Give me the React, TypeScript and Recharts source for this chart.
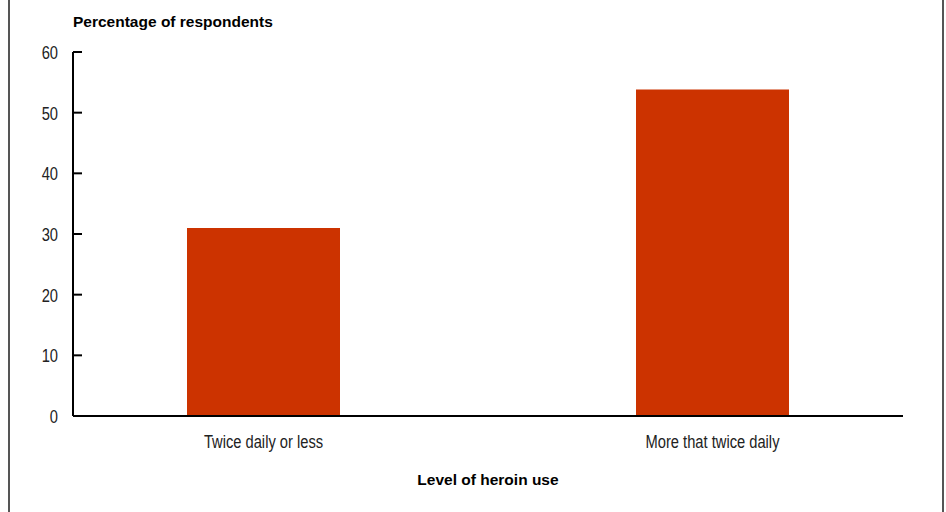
import { BarChart, Bar, XAxis, YAxis } from "recharts";

const categories = ["Twice daily or less", "More that twice daily"];
const percentages = [31, 53.8];
const yTicks = [0, 10, 20, 30, 40, 50, 60];

const chartData = categories.map((name, i) => ({ name, value: percentages[i] }));

const FONT = "'Liberation Sans', Arial, sans-serif";

// labels in the original use a narrow sans, so squeeze them a little
function YTick(props: any) {
  const { x, y, payload } = props;
  return (
    <g>
      <line x1={x} x2={x + 9} y1={y} y2={y} stroke="#000" strokeWidth={2} />
      <text
        transform={`translate(${x - 15},${y}) scale(0.84,1)`}
        dy="0.4em"
        textAnchor="end"
        fontSize={17.5}
        fontFamily={FONT}
        fill="#222"
      >
        {payload.value}
      </text>
    </g>
  );
}

function XTick(props: any) {
  const { x, y, payload } = props;
  return (
    <text
      transform={`translate(${x},${y + 32}) scale(0.84,1)`}
      textAnchor="middle"
      fontSize={17.5}
      fontFamily={FONT}
      fill="#222"
    >
      {payload.value}
    </text>
  );
}

export default function App() {
  return (
    <div
      style={{
        position: "absolute",
        left: 8,
        top: 0,
        width: 936,
        height: 512,
        borderLeft: "2px solid #555",
        borderRight: "2px solid #555",
        boxSizing: "border-box",
        background: "#fff",
      }}
    >
      <BarChart
        width={932}
        height={512}
        data={chartData}
        margin={{ top: 52, right: 39, bottom: 0, left: 0 }}
      >
        <XAxis
          dataKey="name"
          height={96}
          axisLine={{ stroke: "#000", strokeWidth: 2 }}
          tickLine={false}
          tickSize={0}
          tickMargin={0}
          padding={{ left: -34, right: -34 }}
          tick={<XTick />}
          interval={0}
        />
        <YAxis
          width={63}
          domain={[0, 60]}
          ticks={yTicks}
          axisLine={{ stroke: "#000", strokeWidth: 2 }}
          tickLine={false}
          tickSize={0}
          tickMargin={0}
          tick={<YTick />}
        />
        <Bar dataKey="value" fill="#CC3300" barSize={153} isAnimationActive={false} />
        <text x={63} y={27} fontSize={15.5} fontWeight="bold" fontFamily={FONT} fill="#000">
          Percentage of respondents
        </text>
        <text x={478} y={485} textAnchor="middle" fontSize={15.5} fontWeight="bold" fontFamily={FONT} fill="#000">
          Level of heroin use
        </text>
      </BarChart>
    </div>
  );
}
